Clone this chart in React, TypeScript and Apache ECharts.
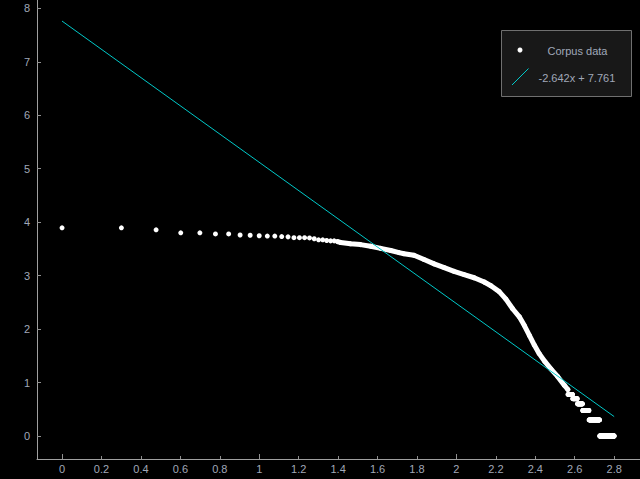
import React, { useEffect, useRef } from "react";
import * as echarts from "echarts";

// Head of the rank/frequency list: log10(rank) and log10(frequency)
const HEAD_LOG_RANK = [0, 0.301, 0.477, 0.602, 0.699, 0.778, 0.845, 0.903, 0.954, 1.0, 1.041, 1.079, 1.114, 1.146, 1.176, 1.204, 1.23, 1.255, 1.279, 1.301, 1.322, 1.342, 1.362, 1.38];
const HEAD_LOG_FREQ = [3.894, 3.894, 3.856, 3.8, 3.8, 3.78, 3.78, 3.76, 3.755, 3.745, 3.74, 3.74, 3.73, 3.725, 3.71, 3.71, 3.71, 3.705, 3.69, 3.67, 3.67, 3.657, 3.65, 3.65];

// Dense middle part of the curve (points overlap into a band)
const MID_LOG_RANK = [1.398, 1.413, 1.463, 1.514, 1.565, 1.616, 1.667, 1.709, 1.734, 1.785, 1.836, 1.887, 1.938, 1.988, 2.039, 2.09, 2.141, 2.175, 2.217, 2.251, 2.285, 2.319, 2.344, 2.37, 2.395, 2.42, 2.449, 2.48, 2.514, 2.547, 2.565];
const MID_LOG_FREQ = [3.635, 3.62, 3.595, 3.58, 3.55, 3.51, 3.47, 3.43, 3.41, 3.38, 3.3, 3.22, 3.15, 3.08, 3.02, 2.96, 2.88, 2.81, 2.7, 2.56, 2.38, 2.23, 2.07, 1.88, 1.7, 1.54, 1.39, 1.25, 1.11, 0.95, 0.87];

// Tail: words sharing a small frequency, as rank runs
const TAIL_FREQ = [6, 5, 4, 3, 2, 1];
const TAIL_FIRST_RANK = [368, 389, 411, 437, 471, 533];
const TAIL_LAST_RANK = [388, 410, 436, 470, 532, 631];

// Least-squares fit shown in the legend
const FIT_SLOPE = -2.642;
const FIT_INTERCEPT = 7.761;
const FIT_X_RANGE = [0, 2.8];

// Tick labels
const X_TICKS = [0, 0.2, 0.4, 0.6, 0.8, 1, 1.2, 1.4, 1.6, 1.8, 2, 2.2, 2.4, 2.6, 2.8];
const X_MAJOR_TICKS = [0, 1, 2];
const Y_TICKS = [0, 1, 2, 3, 4, 5, 6, 7, 8];

const FONT = "Liberation Sans, Arial, sans-serif";
const LABEL_COLOR = "#a0a8b8";
const AXIS_COLOR = "#a0a0a0";
const FIT_COLOR = "#00c8c8";

export default function App() {
  const ref = useRef<HTMLDivElement>(null);

  useEffect(() => {
    if (!ref.current) return;
    const chart = echarts.init(ref.current, null, { renderer: "svg" });

    const head = HEAD_LOG_RANK.map((x, i) => [x, HEAD_LOG_FREQ[i]]);
    const mid = MID_LOG_RANK.map((x, i) => [x, MID_LOG_FREQ[i]]);
    const tail: number[][] = [];
    TAIL_FREQ.forEach((f, i) => {
      for (let r = TAIL_FIRST_RANK[i]; r <= TAIL_LAST_RANK[i]; r++) {
        tail.push([Math.log10(r), Math.log10(f)]);
      }
    });
    const fit = FIT_X_RANGE.map((x) => [x, FIT_SLOPE * x + FIT_INTERCEPT]);
    const eq = `${FIT_SLOPE.toFixed(3)}x + ${FIT_INTERCEPT.toFixed(3)}`;

    const xMin = -0.127;
    const xMax = 2.931;

    chart.setOption({
      animation: false,
      backgroundColor: "#000000",
      grid: { left: 37, right: 0, top: 0, bottom: 20, containLabel: false },
      xAxis: [
        {
          type: "value",
          min: xMin,
          max: xMax,
          axisLine: { show: true, onZero: false, lineStyle: { color: AXIS_COLOR, width: 1 } },
          axisTick: { show: true, inside: true, length: 3, customValues: X_TICKS, lineStyle: { color: "#909090" } },
          axisLabel: {
            show: true,
            customValues: X_TICKS,
            color: LABEL_COLOR,
            fontFamily: FONT,
            fontSize: 11,
            margin: 4,
            showMinLabel: true,
            showMaxLabel: true,
          },
          splitLine: { show: false },
        },
        {
          type: "value",
          min: xMin,
          max: xMax,
          position: "bottom",
          axisLine: { show: false, onZero: false },
          axisTick: { show: true, inside: true, length: 5, customValues: X_MAJOR_TICKS, lineStyle: { color: "#909090" } },
          axisLabel: { show: false },
          splitLine: { show: false },
        },
      ],
      yAxis: {
        type: "value",
        min: -0.43,
        max: 8.155,
        axisLine: { show: true, onZero: false, lineStyle: { color: AXIS_COLOR, width: 1 } },
        axisTick: { show: true, inside: true, length: 4, customValues: Y_TICKS, lineStyle: { color: "#909090" } },
        axisLabel: {
          show: true,
          customValues: Y_TICKS,
          color: LABEL_COLOR,
          fontFamily: FONT,
          fontSize: 11,
          margin: 7,
        },
        splitLine: { show: false },
      },
      series: [
        {
          name: "band",
          type: "line",
          data: mid,
          symbol: "none",
          silent: true,
          lineStyle: { color: "#ffffff", width: 5, cap: "round", join: "round", opacity: 1 },
          z: 2,
        },
        {
          name: "Corpus data",
          type: "scatter",
          data: [...head, ...mid, ...tail],
          symbol: "circle",
          symbolSize: 5,
          itemStyle: { color: "#ffffff", opacity: 1 },
          z: 3,
        },
        {
          name: eq,
          type: "line",
          data: fit,
          symbol: "none",
          lineStyle: { color: FIT_COLOR, width: 1 },
          z: 4,
        },
      ],
      graphic: [
        {
          type: "group",
          left: 501,
          top: 30,
          children: [
            {
              type: "rect",
              shape: { x: 0, y: 0, width: 130, height: 66 },
              style: { fill: "#181818", stroke: "#707070", lineWidth: 1 },
            },
            { type: "circle", shape: { cx: 18.5, cy: 19.5, r: 2.5 }, style: { fill: "#ffffff" } },
            {
              type: "text",
              x: 46,
              y: 20,
              style: { text: "Corpus data", fill: LABEL_COLOR, font: `11px ${FONT}`, verticalAlign: "middle", align: "left" },
            },
            {
              type: "line",
              shape: { x1: 10.5, y1: 54.5, x2: 27, y2: 38 },
              style: { stroke: FIT_COLOR, lineWidth: 1 },
            },
            {
              type: "text",
              x: 37,
              y: 47,
              style: { text: eq, fill: LABEL_COLOR, font: `11px ${FONT}`, verticalAlign: "middle", align: "left" },
            },
          ],
        },
      ],
    });

    return () => chart.dispose();
  }, []);

  return (
    <div
      ref={ref}
      style={{ position: "fixed", left: 0, top: 0, width: 640, height: 479, background: "#000" }}
    />
  );
}
